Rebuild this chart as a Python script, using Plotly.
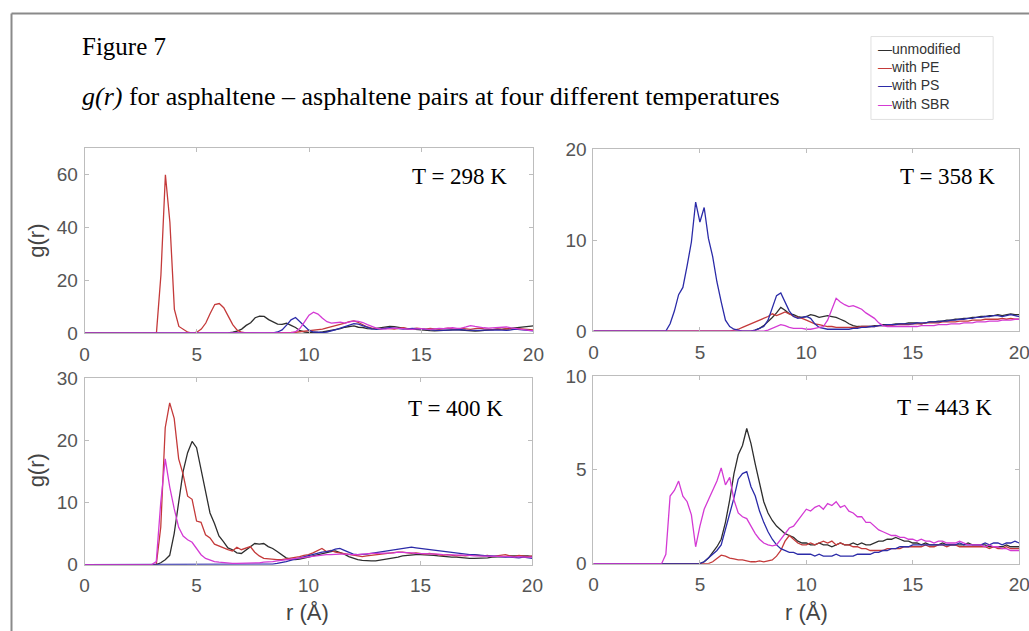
import plotly.graph_objects as go

# sampling grid of the g(r) curves (Å): r = 0, then 3.0 ... 20.0 every 0.2
R = [0.0] + [round(3.0 + 0.2 * i, 1) for i in range(86)]

SERIES = ["unmodified", "with PE", "with PS", "with SBR"]
TEMPS = ["T = 298 K", "T = 358 K", "T = 400 K", "T = 443 K"]
Y_MAX = [70, 20, 30, 10]
Y_TICKS = [[0, 20, 40, 60], [0, 10, 20], [0, 10, 20, 30], [0, 5, 10]]
X_TICKS = [0, 5, 10, 15, 20]

# ---- T = 298 K (values at r = 0, then rows of 3.0-3.8, 4.0-4.8, ... , 19.0-19.8, 20.0)
g298_unmod = [0,
    0, 0, 0, 0, 0,  0, 0, 0, 0, 0,  0, 0, 0, 0, 0,  0, 0, 0.1, 0.3, 0.7,
    1.5, 2.9, 3.9, 5.8, 6.4,  6.3, 5.1, 4.4, 3.4, 3.3,  3.7, 2.9, 2.1, 0.9, 0.4,
    0.2, 0.1, 0.2, 0.4, 0.7,  1.0, 1.5, 1.7, 2.2, 2.4,  2.7, 2.2, 2.1, 1.7, 1.6,
    1.8, 2.0, 2.4, 2.5, 2.4,  2.1, 2.0, 1.6, 1.5, 1.3,  1.2, 1.0, 0.9, 0.8, 0.9,
    1.0, 1.2, 1.4, 1.3, 1.1,  0.9, 0.8, 0.7, 0.8, 1.0,  1.1, 1.3, 1.5, 1.4, 1.6,
    1.8, 2.0, 2.1, 2.3, 2.5,  2.7]
g298_pe = [0,
    0, 0, 22, 60, 42,  9, 2.5, 1.4, 0.3, 0,  0.3, 1.5, 3.8, 7.5, 10.8,
    11.2, 9.6, 6.4, 3.2, 1.1,  0.3, 0.1, 0, 0, 0,  0, 0, 0, 0, 0.1,
    0.1, 0.2, 0.3, 0.5, 0.6,  0.8, 1.0, 1.2, 1.5, 2.0,  2.4, 2.9, 3.3, 3.8, 4.3,
    4.6, 4.0, 3.0, 2.3, 1.9,  1.8, 1.6, 1.9, 1.7, 1.5,  1.8, 2.0, 1.7, 1.6, 1.9,
    1.7, 1.5, 1.8, 1.6, 1.4,  1.7, 1.9, 1.6, 1.5, 1.8,  1.6, 1.4, 1.7, 1.9, 1.6,
    1.5, 1.3, 1.6, 1.4, 1.7,  1.5, 1.8, 1.6, 1.4, 1.3,  1.2]
g298_ps = [0,
    0, 0, 0, 0, 0,  0, 0, 0, 0, 0,  0, 0, 0, 0, 0,  0, 0, 0, 0, 0,
    0, 0, 0, 0, 0,  0, 0, 0.1, 0.4, 1.2,  3.0, 5.0, 5.9, 4.2, 2.3,
    1.0, 0.4, 0.2, 0.2, 0.4,  0.8, 1.3, 1.9, 2.5, 3.1,  3.6, 3.4, 2.8, 2.1, 1.6,
    1.4, 1.6, 1.8, 2.0, 1.9,  1.7, 1.5, 1.6, 1.8, 1.7,  1.5, 1.3, 1.2, 1.1, 1.0,
    1.1, 1.2, 1.3, 1.4, 1.3,  1.1, 1.0, 0.9, 1.0, 1.1,  1.2, 1.3, 1.2, 1.1, 1.0,
    1.2, 1.5, 1.3, 1.1, 0.9,  0.8]
g298_sbr = [0,
    0, 0, 0, 0, 0,  0, 0, 0, 0, 0,  0, 0, 0, 0, 0,  0, 0, 0, 0, 0,
    0, 0, 0, 0, 0,  0, 0, 0, 0, 0,  0, 0.1, 0.5, 1.8, 4.2,
    6.8, 7.9, 7.2, 5.6, 4.3,  3.8, 3.9, 4.1, 3.8, 4.2,  4.6, 4.4, 4.0, 3.2, 2.4,
    1.9, 1.6, 1.5, 1.7, 1.9,  1.8, 1.6, 1.5, 1.4, 1.6,  1.7, 1.5, 1.4, 1.6, 1.8,
    1.7, 1.9, 2.0, 1.8, 1.9,  2.3, 2.8, 2.5, 2.2, 2.0,  1.9, 2.0, 2.2, 2.4, 2.3,
    2.0, 1.7, 1.4, 1.2, 1.0,  0.9]

# ---- T = 358 K
g358_unmod = [0,
    0, 0, 0, 0, 0,  0, 0, 0, 0, 0,  0, 0, 0, 0, 0,  0, 0, 0, 0, 0,
    0, 0, 0, 0.1, 0.3,  0.6, 1.0, 1.5, 2.0, 2.6,  2.3, 1.9, 1.8, 1.6, 1.5,
    1.6, 1.8, 1.7, 1.5, 1.6,  1.7, 1.6, 1.5, 1.3, 1.1,  0.8, 0.6, 0.5, 0.5, 0.5,
    0.5, 0.6, 0.6, 0.7, 0.7,  0.7, 0.8, 0.8, 0.8, 0.9,  0.9, 0.9, 0.8, 0.9, 1.0,
    1.0, 1.1, 1.1, 1.2, 1.2,  1.3, 1.3, 1.4, 1.4, 1.5,  1.5, 1.6, 1.6, 1.7, 1.7,
    1.8, 1.7, 1.8, 1.9, 1.8,  1.8]
g358_pe = [0,
    0, 0, 0, 0, 0,  0, 0, 0, 0, 0,  0, 0, 0, 0, 0,  0, 0, 0, 0.1, 0.2,
    0.4, 0.6, 0.8, 1.0, 1.2,  1.4, 1.6, 1.9, 1.7, 1.9,  2.1, 1.9, 1.6, 1.5, 1.4,
    1.2, 1.0, 0.8, 0.7, 0.6,  0.5, 0.5, 0.4, 0.4, 0.4,  0.4, 0.4, 0.4, 0.5, 0.5,
    0.5, 0.5, 0.6, 0.6, 0.6,  0.6, 0.7, 0.7, 0.7, 0.7,  0.8, 0.8, 0.8, 0.9, 0.9,
    0.9, 0.9, 1.0, 1.0, 1.0,  1.0, 1.1, 1.1, 1.1, 1.2,  1.2, 1.2, 1.3, 1.3, 1.3,
    1.3, 1.4, 1.3, 1.4, 1.3,  1.3]
g358_ps = [0,
    0, 0, 0, 0.8, 2.2,  4.0, 4.8, 7.2, 9.8, 14.2,  12.0, 13.6, 10.2, 8.2, 5.4,
    3.2, 1.2, 0.5, 0.2, 0.1,  0, 0, 0, 0.1, 0.3,  0.5, 1.2, 2.6, 3.9, 4.2,
    3.2, 2.2, 1.6, 1.4, 1.5,  1.6, 1.4, 0.8, 0.4, 0.3,  0.2, 0.2, 0.2, 0.2, 0.2,
    0.2, 0.3, 0.3, 0.4, 0.4,  0.5, 0.5, 0.6, 0.6, 0.7,  0.7, 0.7, 0.8, 0.8, 0.8,
    0.8, 0.9, 0.9, 0.9, 1.0,  1.0, 1.0, 1.1, 1.1, 1.2,  1.2, 1.3, 1.3, 1.4, 1.4,
    1.5, 1.5, 1.6, 1.6, 1.7,  1.7, 1.6, 1.7, 1.8, 1.7,  1.6]
g358_sbr = [0,
    0, 0, 0, 0, 0,  0, 0, 0, 0, 0,  0, 0, 0, 0, 0,  0, 0, 0, 0, 0,
    0, 0, 0, 0, 0,  0, 0.1, 0.3, 0.5, 0.7,  0.6, 0.4, 0.3, 0.3, 0.3,
    0.2, 0.2, 0.3, 0.4, 0.5,  1.2, 2.4, 3.6, 3.2, 2.9,  2.7, 2.8, 2.6, 2.4, 2.0,
    1.7, 1.4, 0.9, 0.6, 0.5,  0.5, 0.5, 0.5, 0.5, 0.5,  0.5, 0.5, 0.6, 0.6, 0.6,
    0.6, 0.7, 0.7, 0.7, 0.8,  0.8, 0.8, 0.9, 0.9, 0.9,  1.0, 1.0, 1.0, 1.1, 1.1,
    1.1, 1.2, 1.2, 1.2, 1.3,  1.3]

# ---- T = 400 K
g400_unmod = [0,
    0, 0, 0.3, 0.8, 1.5,  5.0, 10.0, 15.0, 18.0, 19.8,  18.8, 15.2, 11.8, 8.3, 6.6,
    4.6, 3.7, 2.7, 2.4, 1.9,  1.8, 2.3, 2.8, 3.4, 3.3,  3.4, 2.9, 2.6, 2.1, 1.6,
    1.1, 0.9, 0.8, 0.9, 1.0,  1.2, 1.4, 1.6, 1.8, 2.0,  2.1, 2.2, 2.0, 1.7, 1.3,
    1.0, 0.8, 0.7, 0.6, 0.6,  0.6, 0.7, 0.8, 0.9, 1.0,  1.2, 1.4, 1.5, 1.5, 1.6,
    1.6, 1.6, 1.5, 1.5, 1.4,  1.3, 1.3, 1.2, 1.2, 1.1,  1.0, 1.0, 1.0, 1.0, 1.1,
    1.1, 1.2, 1.2, 1.3, 1.3,  1.4, 1.4, 1.5, 1.4, 1.4,  1.3]
g400_pe = [0,
    0, 0, 6, 22, 26,  23.5, 17, 14.5, 11, 10.5,  7.0, 6.8, 4.8, 4.3, 3.3,
    3.0, 2.6, 2.4, 2.2, 2.8,  2.4, 2.6, 2.9, 2.0, 1.4,  1.0, 0.9, 0.8, 0.8, 0.8,
    0.9, 1.0, 1.2, 1.3, 1.5,  1.6, 1.9, 2.2, 2.6, 2.1,  2.3, 2.0, 1.9, 1.7, 1.6,
    1.5, 1.4, 1.3, 1.4, 1.5,  1.6, 1.7, 1.8, 1.8, 1.9,  2.0, 2.0, 1.9, 1.8, 1.9,
    1.8, 1.7, 1.8, 1.7, 1.6,  1.5, 1.6, 1.5, 1.4, 1.5,  1.4, 1.5, 1.6, 1.5, 1.4,
    1.5, 1.3, 1.4, 1.5, 1.6,  1.4, 1.3, 1.5, 1.4, 1.3,  1.4]
g400_ps = [0,
    0, 0, 0, 0, 0,  0, 0, 0, 0, 0,  0, 0, 0, 0, 0,  0, 0, 0, 0, 0,
    0, 0, 0, 0, 0,  0, 0, 0.1, 0.2, 0.3,  0.5, 0.7, 0.9, 1.1, 1.3,
    1.4, 1.6, 1.8, 2.0, 2.1,  2.2, 2.5, 2.6, 2.3, 2.0,  1.7, 1.6, 1.6, 1.7, 1.8,
    1.9, 2.0, 2.1, 2.2, 2.3,  2.4, 2.6, 2.7, 2.8, 2.7,  2.6, 2.6, 2.5, 2.4, 2.3,
    2.2, 2.1, 2.0, 1.9, 1.8,  1.7, 1.6, 1.6, 1.5, 1.5,  1.4, 1.4, 1.3, 1.3, 1.2,
    1.2, 1.1, 1.1, 1.2, 1.1,  1.0]
g400_sbr = [0,
    0, 0.5, 10, 17, 12.5,  9.0, 6.0, 4.6, 4.0, 3.6,  2.5, 1.6, 1.0, 0.7, 0.5,
    0.4, 0.3, 0.2, 0.2, 0.2,  0.2, 0.2, 0.3, 0.3, 0.3,  0.4, 0.4, 0.5, 0.6, 0.7,
    0.8, 0.9, 1.0, 1.1, 1.2,  1.3, 1.4, 1.5, 1.5, 1.6,  1.6, 1.7, 1.7, 1.7, 1.6,
    1.6, 1.6, 1.7, 1.7, 1.8,  1.8, 1.8, 1.9, 1.9, 1.9,  2.0, 2.0, 1.9, 1.9, 1.8,
    1.8, 1.8, 1.7, 1.7, 1.7,  1.6, 1.6, 1.6, 1.5, 1.5,  1.5, 1.5, 1.4, 1.4, 1.4,
    1.4, 1.4, 1.3, 1.3, 1.3,  1.3, 1.2, 1.3, 1.2, 1.2,  1.2]

# ---- T = 443 K
g443_unmod = [0,
    0, 0, 0, 0, 0,  0, 0, 0, 0, 0,  0, 0.1, 0.3, 0.6, 0.9,
    1.3, 2.2, 3.4, 4.8, 5.8,  6.3, 7.2, 6.4, 5.3, 4.3,  3.3, 2.7, 2.3, 2.0, 1.8,
    1.6, 1.5, 1.4, 1.2, 1.1,  1.1, 1.0, 1.0, 1.1, 1.0,  1.0, 0.9, 1.0, 1.1, 1.0,
    1.0, 1.1, 1.0, 1.1, 1.0,  1.0, 1.1, 1.2, 1.2, 1.3,  1.3, 1.4, 1.3, 1.2, 1.2,
    1.1, 1.1, 1.0, 1.1, 1.0,  1.0, 1.0, 1.1, 1.0, 1.0,  1.0, 1.0, 1.0, 1.1, 1.0,
    1.0, 1.0, 1.0, 0.9, 0.9,  0.9, 0.9, 1.0, 0.9, 0.9,  0.9]
g443_pe = [0,
    0, 0, 0, 0, 0,  0, 0, 0, 0, 0,  0, 0, 0, 0.1, 0.3,
    0.45, 0.4, 0.3, 0.25, 0.2,  0.2, 0.15, 0.1, 0.1, 0.15,  0.1, 0.15, 0.2, 0.4, 0.7,
    1.2, 1.5, 1.3, 1.1, 1.0,  1.0, 1.1, 1.0, 1.1, 1.2,  1.1, 1.2, 1.0, 1.1, 1.0,
    1.0, 0.9, 0.9, 0.8, 0.8,  0.7, 0.7, 0.7, 0.7, 0.8,  0.8, 0.8, 0.8, 0.9, 0.9,
    0.9, 0.9, 0.9, 1.0, 0.9,  0.9, 1.0, 1.0, 0.9, 1.0,  1.0, 0.9, 0.9, 0.9, 0.9,
    0.9, 0.9, 0.9, 0.8, 0.9,  0.8, 0.8, 0.9, 0.8, 0.8,  0.8]
g443_ps = [0,
    0, 0, 0, 0, 0,  0, 0, 0, 0, 0,  0, 0.1, 0.3, 0.5, 0.7,
    1.0, 1.8, 2.6, 3.5, 4.5,  4.8, 4.9, 4.1, 3.6, 2.8,  2.2, 1.7, 1.3, 1.0, 0.8,
    0.7, 0.6, 0.6, 0.5, 0.5,  0.5, 0.5, 0.4, 0.5, 0.4,  0.4, 0.4, 0.5, 0.4, 0.4,
    0.4, 0.4, 0.5, 0.5, 0.5,  0.5, 0.6, 0.6, 0.7, 0.7,  0.8, 0.8, 0.9, 0.9, 0.9,
    1.0, 1.0, 1.0, 1.0, 1.0,  1.0, 1.0, 1.0, 1.0, 1.0,  1.0, 1.1, 1.0, 1.0, 1.0,
    1.0, 1.0, 1.1, 1.0, 1.1,  1.1, 1.0, 1.1, 1.1, 1.2,  1.1]
g443_sbr = [0,
    0, 0, 0.5, 3.6, 3.9,  4.4, 3.6, 3.3, 2.6, 0.9,  2.0, 2.9, 3.4, 3.9, 4.4,
    5.1, 4.2, 4.6, 3.4, 2.7,  2.5, 2.4, 2.0, 1.6, 1.3,  1.1, 1.0, 0.95, 1.0, 1.3,
    1.6, 1.9, 2.0, 2.3, 2.6,  2.9, 2.8, 3.0, 3.1, 2.9,  3.2, 3.1, 3.3, 3.0, 3.1,
    2.8, 2.7, 2.5, 2.5, 2.2,  2.2, 2.0, 1.8, 1.7, 1.6,  1.5, 1.5, 1.4, 1.4, 1.3,
    1.3, 1.2, 1.3, 1.2, 1.2,  1.1, 1.2, 1.2, 1.1, 1.1,  1.1, 1.2, 1.1, 1.0, 1.0,
    1.0, 1.0, 0.9, 1.0, 0.9,  0.9, 0.8, 0.8, 0.7, 0.7,  0.7]

PANELS = [
    [g298_unmod, g298_pe, g298_ps, g298_sbr],
    [g358_unmod, g358_pe, g358_ps, g358_sbr],
    [g400_unmod, g400_pe, g400_ps, g400_sbr],
    [g443_unmod, g443_pe, g443_ps, g443_sbr],
]

COLORS = ["#2e2e2e", "#c43a3a", "#2b2ba8", "#d43ad4"]

# Figure size and the calibration from target picture pixels to figure pixels
# (the photographed page shows the figure slightly reduced and offset).
W, H = 1042, 643
SX, OX = 0.983, 5.5
SY, OY = 0.969, 8.4


def px(x):
    return ((x - OX) / SX) / W


def py(y):
    return 1 - ((y - OY) / SY) / H


# plot boxes in target pixels: (left, right, top, bottom)
BOXES = [(85, 533, 147, 332), (593, 1018, 148, 330), (85, 532, 377, 564), (593, 1018, 375, 563)]

fig = go.Figure()

for p, series in enumerate(PANELS):
    ax = "" if p == 0 else str(p + 1)
    for s, vals in enumerate(series):
        fig.add_trace(go.Scatter(
            x=R, y=vals, mode="lines", name=SERIES[s],
            line=dict(color=COLORS[s], width=1.3),
            xaxis="x" + ax, yaxis="y" + ax,
            legendgroup=SERIES[s], showlegend=False,
        ))

axis_common = dict(
    showline=True, mirror="ticks", linecolor="#bdbdbd", linewidth=1,
    ticks="inside", ticklen=4, tickcolor="#bdbdbd", showgrid=False, zeroline=False,
    tickfont=dict(family="Liberation Sans, Arial", size=19, color="#555555"),
)

layout = dict(
    width=W, height=H, margin=dict(l=0, r=0, t=0, b=0),
    paper_bgcolor="white", plot_bgcolor="white",
    showlegend=False,
)

for p, (l, r, t, b) in enumerate(BOXES):
    ax = "" if p == 0 else str(p + 1)
    layout["xaxis" + ax] = dict(
        axis_common, domain=[px(l), px(r)], range=[0, 20], tickvals=X_TICKS,
        anchor="y" + ax, ticklabelstandoff=4,
    )
    layout["yaxis" + ax] = dict(
        axis_common, domain=[py(b), py(t)], range=[0, Y_MAX[p]], tickvals=Y_TICKS[p],
        anchor="x" + ax, ticklabelstandoff=2,
    )

fig.update_layout(**layout)

serif = "Liberation Serif, Times New Roman"
sans = "Liberation Sans, Arial"
ann = []
ann.append(dict(text="Figure 7", x=px(80), y=py(45), xanchor="left", yanchor="middle",
                font=dict(family=serif, size=25, color="black")))
ann.append(dict(text="<i>g(r)</i> for asphaltene – asphaltene pairs at four different temperatures",
                x=px(80), y=py(95), xanchor="left", yanchor="middle",
                font=dict(family=serif, size=26, color="black")))
T_POS = [(459, 175), (946, 175), (455, 408), (943, 407)]
for p, (x, y) in enumerate(T_POS):
    ann.append(dict(text=TEMPS[p], x=px(x), y=py(y), xanchor="center", yanchor="middle",
                    font=dict(family=serif, size=23, color="black")))
for y in (240, 470):
    ann.append(dict(text="g(r)", x=px(37), y=py(y), textangle=-90, xanchor="center", yanchor="middle",
                    font=dict(family=sans, size=22, color="#444444")))
for x in (307, 806):
    ann.append(dict(text="r (Å)", x=px(x), y=py(612), xanchor="center", yanchor="middle",
                    font=dict(family=sans, size=22, color="#444444")))

# legend (MATLAB style: short coloured dash, then the series name)
LEG_Y = [47, 65.5, 84, 102.5]
for s, name in enumerate(SERIES):
    ann.append(dict(text=f"<span style='color:{COLORS[s]}'>—</span>{name}",
                    x=px(875), y=py(LEG_Y[s]), xanchor="left", yanchor="middle",
                    font=dict(family=sans, size=14, color="#333333")))

for a in ann:
    a.update(xref="paper", yref="paper", showarrow=False)
fig.update_layout(annotations=ann)

# page frame and legend box
fig.update_layout(shapes=[
    dict(type="line", xref="paper", yref="paper", x0=px(12), x1=1.0, y0=py(12), y1=py(12),
         line=dict(color="#8a8a8a", width=2)),
    dict(type="line", xref="paper", yref="paper", x0=px(12), x1=px(12), y0=py(12), y1=0.0,
         line=dict(color="#8a8a8a", width=2)),
    dict(type="rect", xref="paper", yref="paper", x0=px(870), x1=px(992), y0=py(118), y1=py(35),
         line=dict(color="#e0e0e0", width=1), fillcolor="white", layer="below"),
])

fig.write_html(
    "out.html",
    config={"displayModeBar": False},
    post_script="document.body.style.margin='0';document.body.style.overflow='hidden';"
                "document.documentElement.style.overflow='hidden';",
)
